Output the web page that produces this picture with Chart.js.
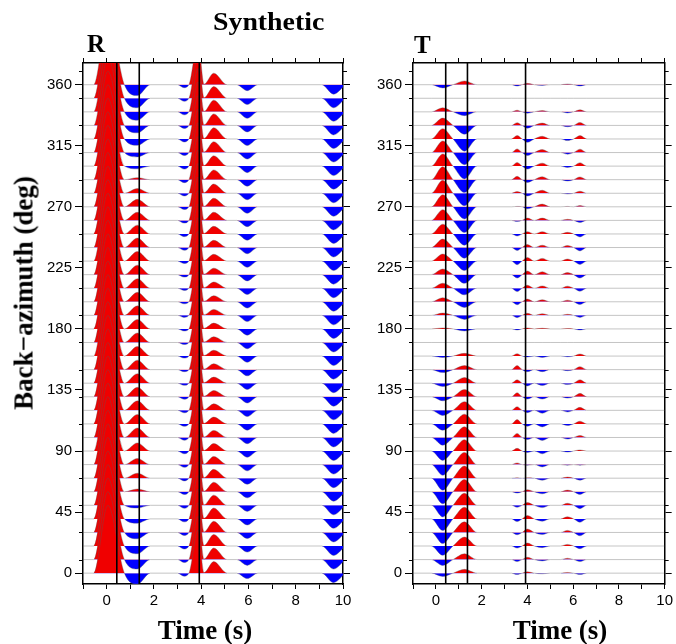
<!DOCTYPE html>
<html>
<head>
<meta charset="utf-8">
<script src="https://cdn.jsdelivr.net/npm/chart.js@4.4.1/dist/chart.umd.min.js"></script>
<style>
  body { margin: 0; background: #fff; }
  #wrap { position: relative; width: 676px; height: 644px; overflow: hidden; }
  canvas { position: absolute; top: 0; }
  .lbl { position: absolute; font-family: "Liberation Serif", "Times New Roman", serif; font-weight: bold; color: #000; white-space: nowrap; line-height: 1; }
</style>
</head>
<body>
<div id="wrap">
  <canvas id="radial" width="360" height="644" style="left:0px"></canvas>
  <canvas id="transverse" width="316" height="644" style="left:360px"></canvas>
  <div class="lbl" style="left:213px; top:9px; font-size:26px; transform:scaleX(1.07); transform-origin:left">Synthetic</div>
  <div class="lbl" style="left:87px; top:31px; font-size:25px">R</div>
  <div class="lbl" style="left:414px; top:32px; font-size:25px">T</div>
  <div class="lbl" style="left:205px; top:617px; font-size:27px; transform:translateX(-50%)">Time (s)</div>
  <div class="lbl" style="left:560px; top:617px; font-size:27px; transform:translateX(-50%)">Time (s)</div>
  <div class="lbl" style="left:24px; top:293px; font-size:27px; transform:translate(-50%,-50%) rotate(-90deg)">Back&minus;azimuth (deg)</div>
</div>
<script>
// back-azimuth of each trace (deg)
var BAZ = [0, 10, 20, 30, 40, 50, 60, 70, 80, 90, 100, 110, 120, 130, 140, 150, 160, 170, 180,
           190, 200, 210, 220, 230, 240, 250, 260, 270, 280, 290, 300, 310, 320, 330, 340, 350, 360];
var BAZ_MAJOR = [0, 45, 90, 135, 180, 225, 270, 315, 360];
var BAZ_MINOR = [10, 30, 50, 70, 110, 130, 150, 170, 190, 210, 230, 250, 290, 310, 330, 350, 370];
var TIME_TICKS = [-1, 0, 1, 2, 3, 4, 5, 6, 7, 8, 9, 10];
// black marker lines (s)
var MARK_T = [0.43, 1.38, 3.92];

// ---- R component, pulse amplitudes per trace (in deg of trace offset)
var R_P0 = [50, 50, 50, 50, 50, 50, 50, 50, 50, 50, 50, 50, 50, 50, 50, 50, 50, 50, 50,
            50, 50, 50, 50, 50, 50, 50, 50, 50, 50, 50, 50, 50, 50, 50, 50, 50, 50];
var R_PS = [-8, -7, -5.7, -4.7, -3.2, -2, 2, 3.7, 4.5, 6, 7, 7, 7, 7, 7, 7, 7, 7, 7,
            7, 7, 7, 7, 7, 7, 6.5, 6, 5.5, 3.5, 1.5, -2, -3.2, -4.7, -5.5, -6.2, -7, -8];
var R_N33 = [-2.2, -2.2, -2.2, -2.2, -2.2, -2.2, -2, -2, -2, -2, -2, -1.8, -1.8, -1.8, -1.6, -1.5, -1.5, -1.5, -1.5,
             -1.5, -1.5, -1.6, -1.8, -1.8, -2, -2, -2, -2, -2, -2.2, -2.2, -2.2, -2.2, -2.2, -2.2, -2.2, -2.2];
var R_P38 = [32, 32, 32, 32, 32, 32, 32, 32, 32, 32, 32, 32, 32, 32, 32, 32, 32, 32, 32,
             32, 32, 32, 32, 32, 32, 32, 32, 32, 32, 32, 32, 32, 32, 32, 32, 32, 32];
var R_D41 = [0.4, 0.4, 0.4, 0.4, 0.4, 0.4, 0.4, 0.4, 0.4, 0.4, 0.4, 0.4, 0.4, 0.4, 0.4, 0.4, 0.4, 0.4, 0.4,
             0.4, 0.4, 0.4, 0.4, 0.4, 0.4, 0.4, 0.4, 0.4, 0.4, 0.4, 0.4, 0.4, 0.4, 0.4, 0.4, 0.4, 0.4];
var R_P45 = [8.5, 8.5, 8.5, 8.2, 8, 7.5, 7, 6.5, 6, 5.5, 5.2, 5, 4.8, 4.6, 4.5, 4.4, 4.3, 4.3, 4.3,
             4.4, 4.5, 4.6, 4.8, 5, 5.3, 5.6, 6, 6.3, 6.8, 7.2, 7.6, 8, 8.3, 8.5, 8.6, 8.6, 8.5];
var R_N60 = [-4, -4.3, -4.5, -4.5, -4.5, -4.5, -4.5, -4.5, -4.6, -4.6, -4.6, -4.6, -4.6, -4.6, -4.6, -4.6, -4.6, -4.6, -4.6,
             -4.6, -4.6, -4.6, -4.6, -4.6, -4.6, -4.6, -4.6, -4.8, -4.8, -4.8, -4.8, -4.8, -4.8, -4.8, -4.8, -4.6, -4.4];
var R_N96 = [-7, -7, -7, -7, -7, -7, -7, -7, -7, -7, -7, -7, -7, -7, -7, -7, -7, -7, -7,
             -7, -7, -7, -7, -7, -7, -7, -7, -7, -7, -7, -7, -7, -7, -7, -7, -7, -7];

// ---- T component
var T_A = [-2.4, -4.4, -6.9, -8.2, -8.6, -8.6, -8.9, -8.9, -7.9, -6.9, -5.7, -4.7, -3.8, -3, -2.5, -2.2, -1, 0, 0.7,
           1.7, 3, 3.7, 4.2, 5.2, 6.2, 7.2, 7.9, 8.9, 9.6, 9.6, 9, 8.6, 7.6, 5.4, 3, 0, -2.4];
var T_B = [2.8, 4.3, 6.6, 7.8, 8.6, 8.8, 9, 9, 9, 8.4, 7.9, 7.2, 6.4, 5.4, 4.2, 3, 2, 0, -1.5,
           -3, -4.2, -4.9, -6.4, -7, -7.9, -8.3, -8.9, -9, -9.2, -9.5, -9.5, -9, -9, -6.5, -2.8, 0, 2.8];
var T_C1 = [-1, -1.5, -1.5, -1.7, -2, -1.5, -1, 0.3, 1.2, 2, 3, 3.2, 2.7, 3, 2.5, 3, 1.7, 0, -0.8,
            -1.7, -2.2, -2.5, -2.5, -2.7, -2.2, -1.5, -0.8, 0.3, 1.2, 2.5, 2.7, 2.7, 2.5, 2, 1.2, 0, -1];
var T_C2 = [1, 1.7, 2.2, 2.5, 2.5, 2, 1.5, 0.3, -0.5, -1, -1.5, -1.7, -1.7, -1.7, -2, -1.5, -0.7, 0, 0.7,
            1.5, 2, 2.2, 2.7, 2.7, 2.2, 1.7, 1.7, -1.5, -2, -2, -2.2, -2.2, -2.5, -2, -1, 0, 1];
var T_C3 = [-0.5, -1, -1.2, -1.5, -1.7, -1.7, -1.5, -1.5, -1.7, -2, -2.2, -2.2, -2.2, -1.7, -1.7, -1.5, -1, 0, 0.5,
            1.2, 1.5, 1.7, 2.2, 2, 1.7, 1.7, 1.7, 2, 2.2, 2.2, 2.2, 2.2, 2, 1.7, 1, 0, -0.5];
var T_C4 = [0.5, 1, 1.2, 1.5, 1.5, 1.5, 1.2, 0.8, -0.5, -0.8, -1.2, -1.2, -1.2, -1, -1, -0.8, -0.5, 0, 0.3,
            0.8, 1.2, 1.5, 1.5, 1.5, 1.5, 1.2, 0.8, 0.3, -0.5, -1, -1, -1.2, -1.2, -1, -0.8, 0, 0.5];
var T_C5 = [-1, -1.5, -2, -2.5, -2.5, -2.5, -2, -1.5, -0.5, 0.8, 1.5, 2, 2.2, 2.5, 2.5, 2.2, 1.5, 0, -0.8,
            -1.5, -2, -2.2, -2.5, -2.5, -2.5, -2.2, -1.5, 1, 1.5, 2, 2.5, 2.5, 2.5, 2.2, 1.5, 0, -1];

// knot times (s) and the amplitude array at each knot (null = on the baseline)
var R_KNOTS = [[-1, null], [-0.55, null], [0.05, R_P0], [0.75, null], [1.3, R_PS], [1.85, null],
               [3.0, null], [3.27, R_N33], [3.48, null], [3.87, R_P38], [4.12, R_D41], [4.53, R_P45],
               [5.1, null], [5.5, null], [5.95, R_N60], [6.4, null], [9.1, null], [9.6, R_N96], [10.1, null]];
var T_KNOTS = [[-1, null], [-0.2, null], [0.3, T_A], [0.75, null], [1.25, T_B], [1.8, null],
               [3.3, null], [3.55, T_C1], [3.77, null], [4.0, T_C2], [4.3, null], [4.65, T_C3], [5.0, null],
               [5.45, null], [5.75, T_C4], [6.02, null], [6.3, T_C5], [6.6, null], [10.1, null]];

var RED = 'rgb(240,0,0)';
var BLUE = 'rgb(0,0,255)';
var TICK_FONT = { family: "'Liberation Sans', Arial, sans-serif", size: 15 };

// short minor ticks on the back-azimuth axes
var minorTicks = {
  id: 'minorTicks',
  afterDraw: function (chart) {
    var ctx = chart.ctx, a = chart.chartArea, ys = chart.scales.y;
    ctx.save();
    ctx.strokeStyle = '#000';
    ctx.lineWidth = 1;
    BAZ_MINOR.forEach(function (v) {
      var py = Math.round(ys.getPixelForValue(v)) + 0.5;
      ctx.beginPath();
      ctx.moveTo(a.left - 4, py); ctx.lineTo(a.left, py);
      ctx.moveTo(a.right, py); ctx.lineTo(a.right + 4, py);
      ctx.stroke();
    });
    ctx.restore();
  }
};

function panel(id, knots, leftW, rightW, padRight) {
  var datasets = [];
  MARK_T.forEach(function (t) {
    datasets.push({
      data: [{ x: t, y: -8 }, { x: t, y: 376 }],
      borderColor: '#000', borderWidth: 1.6, pointRadius: 0, fill: false
    });
  });
  BAZ.forEach(function (b, i) {
    datasets.push({
      data: knots.map(function (k) { return { x: k[0], y: b + (k[1] ? k[1][i] : 0) }; }),
      borderColor: 'rgba(90,90,90,0.6)', borderWidth: 0.6, pointRadius: 0,
      cubicInterpolationMode: 'monotone',
      fill: { target: { value: b }, above: RED, below: BLUE }
    });
  });

  var frame = { display: true, color: '#000', width: 1.5 };
  var noGrid = { drawOnChartArea: false, drawTicks: true, tickLength: 5, tickColor: '#000', tickWidth: 1 };

  return new Chart(document.getElementById(id), {
    type: 'line',
    data: { datasets: datasets },
    options: {
      responsive: false,
      animation: false,
      layout: { padding: { top: 57, left: 0, right: padRight, bottom: 0 } },
      plugins: { legend: { display: false }, tooltip: { enabled: false } },
      scales: {
        x: {
          type: 'linear', position: 'bottom', min: -1, max: 10,
          afterBuildTicks: function (s) { s.ticks = TIME_TICKS.map(function (v) { return { value: v }; }); },
          ticks: { autoSkip: false, maxRotation: 0, padding: 3, color: '#000', font: TICK_FONT,
                   callback: function (v) { return v % 2 === 0 ? v : ''; } },
          grid: noGrid, border: frame,
          afterFit: function (s) { s.height = 60; }
        },
        xTop: {
          type: 'linear', position: 'top', min: -1, max: 10,
          afterBuildTicks: function (s) { s.ticks = TIME_TICKS.map(function (v) { return { value: v }; }); },
          ticks: { display: false },
          grid: noGrid, border: frame,
          afterFit: function (s) { s.height = 6; }
        },
        y: {
          type: 'linear', position: 'left', min: -8, max: 376,
          afterBuildTicks: function (s) { s.ticks = BAZ_MAJOR.map(function (v) { return { value: v }; }); },
          ticks: { autoSkip: false, padding: 3, color: '#000', font: TICK_FONT },
          grid: { drawOnChartArea: false, drawTicks: true, tickLength: 8, tickColor: '#000', tickWidth: 1 },
          border: frame,
          afterFit: function (s) { s.width = leftW; }
        },
        yRight: {
          type: 'linear', position: 'right', min: -8, max: 376,
          afterBuildTicks: function (s) { s.ticks = BAZ_MAJOR.map(function (v) { return { value: v }; }); },
          ticks: { display: false },
          grid: { drawOnChartArea: false, drawTicks: true, tickLength: 7, tickColor: '#000', tickWidth: 1 },
          border: frame,
          afterFit: function (s) { s.width = rightW; }
        }
      }
    },
    plugins: [minorTicks]
  });
}

panel('radial', R_KNOTS, 83, 6, 11);
panel('transverse', T_KNOTS, 53, 3, 0);
</script>
</body>
</html>
